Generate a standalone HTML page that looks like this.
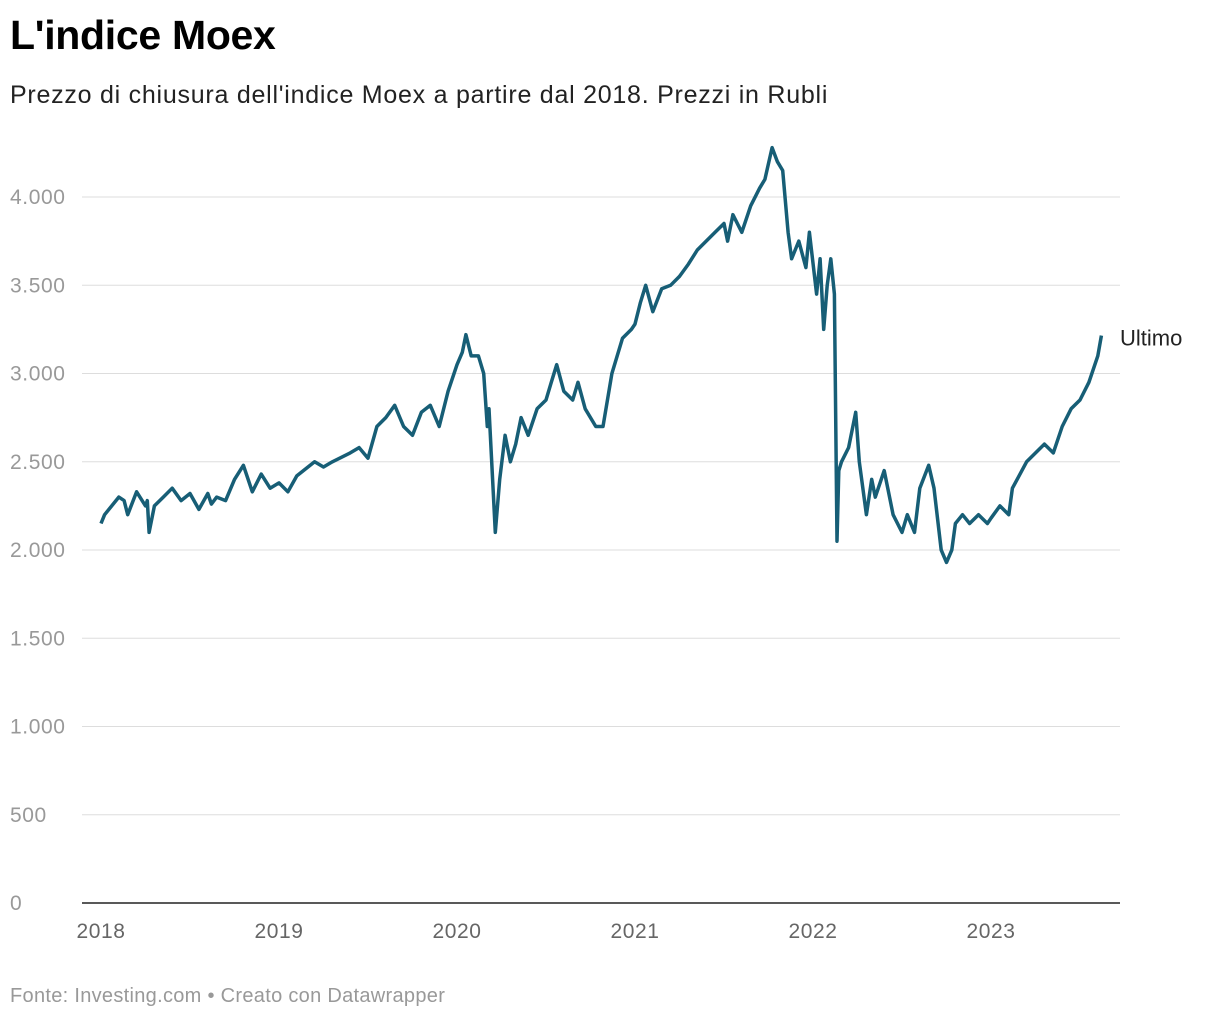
<!DOCTYPE html>
<html><head><meta charset="utf-8"><style>
body{margin:0;background:#fff;font-family:"Liberation Sans",Arial,sans-serif;}
#wrap{position:relative;width:1220px;height:1020px;overflow:hidden;}
h1{position:absolute;left:10px;top:12px;margin:0;font-size:41px;font-weight:bold;color:#000;letter-spacing:-0.3px;}
.sub{position:absolute;left:10px;top:81px;font-size:25px;color:#222;letter-spacing:0.75px;}
.foot{position:absolute;left:10px;top:985px;font-size:20px;color:#999;letter-spacing:0.3px;}
</style></head><body><div id="wrap">
<h1>L'indice Moex</h1>
<div class="sub">Prezzo di chiusura dell'indice Moex a partire dal 2018. Prezzi in Rubli</div>
<svg id="chart" width="1220" height="1020" style="position:absolute;left:0;top:0"></svg>
<div class="foot">Fonte: Investing.com • Creato con Datawrapper</div>
</div>
<script>
const yTicks=[0,500,1000,1500,2000,2500,3000,3500,4000];
const yTickLabels=["0","500","1.000","1.500","2.000","2.500","3.000","3.500","4.000"];
const xTicks=[2018,2019,2020,2021,2022,2023];
const dates=[2018.0,2018.02,2018.1,2018.13,2018.15,2018.2,2018.25,2018.26,2018.27,2018.3,2018.35,2018.4,2018.45,2018.5,2018.55,2018.6,2018.62,2018.65,2018.7,2018.75,2018.8,2018.85,2018.9,2018.95,
2019.0,2019.05,2019.1,2019.2,2019.25,2019.3,2019.4,2019.45,2019.5,2019.55,2019.6,2019.65,2019.7,2019.75,2019.8,2019.85,2019.9,2019.95,
2020.0,2020.03,2020.05,2020.08,2020.12,2020.15,2020.17,2020.18,2020.2,2020.215,2020.24,2020.27,2020.3,2020.33,2020.36,2020.4,2020.45,2020.5,2020.53,2020.56,2020.6,2020.65,2020.68,2020.72,2020.78,2020.82,2020.87,2020.93,2020.98,
2021.0,2021.03,2021.06,2021.1,2021.15,2021.2,2021.25,2021.3,2021.35,2021.45,2021.5,2021.52,2021.55,2021.6,2021.65,2021.7,2021.73,2021.77,2021.8,2021.83,2021.86,2021.88,2021.92,2021.96,2021.98,
2022.02,2022.04,2022.06,2022.08,2022.1,2022.12,2022.135,2022.145,2022.16,2022.2,2022.24,2022.26,2022.3,2022.33,2022.35,2022.4,2022.45,2022.5,2022.53,2022.57,2022.6,2022.65,2022.68,2022.72,2022.75,2022.78,2022.8,2022.84,2022.88,2022.93,2022.98,
2023.0,2023.05,2023.1,2023.12,2023.2,2023.3,2023.35,2023.4,2023.45,2023.5,2023.55,2023.6,2023.62];
const values=[2150,2200,2300,2280,2200,2330,2250,2280,2100,2250,2300,2350,2280,2320,2230,2320,2260,2300,2280,2400,2480,2330,2430,2350,
2380,2330,2420,2500,2470,2500,2550,2580,2520,2700,2750,2820,2700,2650,2780,2820,2700,2900,
3050,3120,3220,3100,3100,3000,2700,2800,2400,2100,2400,2650,2500,2600,2750,2650,2800,2850,2950,3050,2900,2850,2950,2800,2700,2700,3000,3200,3250,
3280,3400,3500,3350,3480,3500,3550,3620,3700,3800,3850,3750,3900,3800,3950,4050,4100,4280,4200,4150,3800,3650,3750,3600,3800,
3450,3650,3250,3500,3650,3450,2050,2450,2500,2580,2780,2500,2200,2400,2300,2450,2200,2100,2200,2100,2350,2480,2350,2000,1930,2000,2150,2200,2150,2200,2150,
2180,2250,2200,2350,2500,2600,2550,2700,2800,2850,2950,3100,3215];
const svg=document.getElementById('chart');const NS='http://www.w3.org/2000/svg';
const x=d=>101+(d-2018)*178;
const y=v=>903-v*0.1765;
function mk(t,a){const e=document.createElementNS(NS,t);for(const k in a)e.setAttribute(k,a[k]);svg.appendChild(e);return e;}
yTicks.forEach((v,i)=>{
 if(v>0){const g=mk('line',{x1:82,x2:1120,y1:y(v),y2:y(v),stroke:'#ddd','stroke-width':1});
 
 }
 const t=mk('text',{x:10,y:y(v)+7,'font-size':21,fill:'#999','letter-spacing':0.6,'font-family':'Liberation Sans, sans-serif'});
 t.textContent=yTickLabels[i];
 
 
});
const ax=mk('line',{x1:82,x2:1120,y1:y(0),y2:y(0),stroke:'#222','stroke-width':1.5});


xTicks.forEach(yr=>{
 const t=mk('text',{x:x(yr),y:938,'font-size':21,fill:'#666','text-anchor':'middle','letter-spacing':0.6,'font-family':'Liberation Sans, sans-serif'});
 t.textContent=yr;
 
 
});
const p=mk('path',{d:dates.map((d,i)=>(i?'L':'M')+x(d).toFixed(1)+','+y(values[i]).toFixed(1)).join(''),fill:'none',stroke:'#175e76','stroke-width':3.5,'stroke-linejoin':'round'});


const last=values.length-1;
const lb=mk('text',{x:1120,y:y(values[last])+10,'font-size':22,fill:'#222','font-family':'Liberation Sans, sans-serif'});
lb.textContent='Ultimo';


</script></body></html>
